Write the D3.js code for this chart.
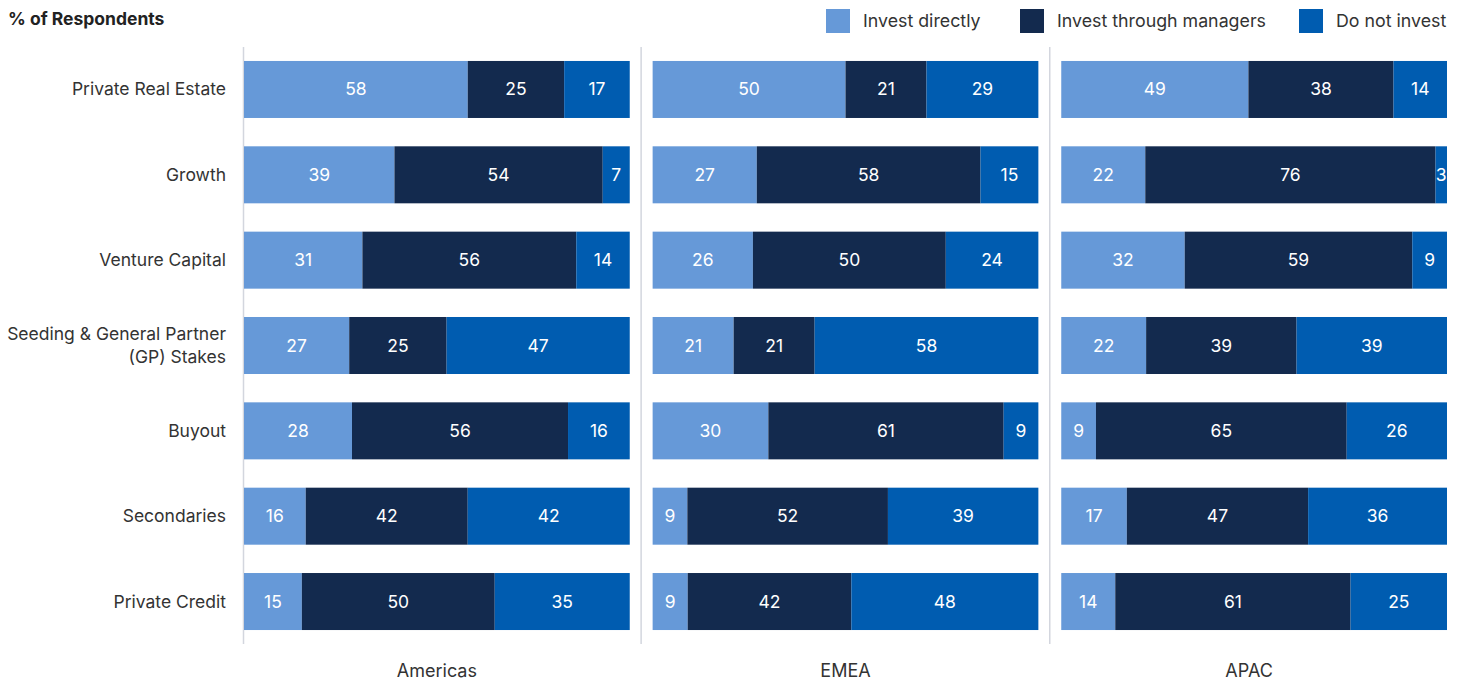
<html>
<head>
<script src="https://d3js.org/d3.v7.min.js"></script>
<style>
body { margin: 0; background: white; }
text { font-family: Inter, "Open Sans", sans-serif; }
</style>
</head>
<body>
<svg id="chart" width="1463" height="681"></svg>
<script>
var categories = ["Private Real Estate", "Growth", "Venture Capital", "Seeding & General Partner|(GP) Stakes", "Buyout", "Secondaries", "Private Credit"];
var regions = ["Americas", "EMEA", "APAC"];
var seriesNames = ["Invest directly", "Invest through managers", "Do not invest"];
var colors = ["#6699d8", "#132a4e", "#005cb0"];

// [direct, managers, do not invest] per category
var americas = [[58,25,17],[39,54,7],[31,56,14],[27,25,47],[28,56,16],[16,42,42],[15,50,35]];
var emea     = [[50,21,29],[27,58,15],[26,50,24],[21,21,58],[30,61,9],[9,52,39],[9,42,48]];
var apac     = [[49,38,14],[22,76,3],[32,59,9],[22,39,39],[9,65,26],[17,47,36],[14,61,25]];
var panels = [americas, emea, apac];

var svg = d3.select("#chart");

var y = d3.scaleBand().domain(categories).range([46.8, 644.2]).paddingInner(0.332).paddingOuter(0.166);
var px = d3.scaleBand().domain(regions).range([244, 1447]).paddingInner(0.056);

// title
svg.append("text").attr("x", 8).attr("y", 25).attr("font-size", 17.5).attr("font-weight", 700)
  .attr("fill", "#222").text("% of Respondents");

// legend
var legX = [826, 1020, 1299];
seriesNames.forEach(function(s, i) {
  svg.append("rect").attr("x", legX[i]).attr("y", 9).attr("width", 24).attr("height", 24).attr("fill", colors[i]);
  svg.append("text").attr("x", legX[i] + 37).attr("y", 27).attr("font-size", 17.8).attr("fill", "#333").text(s);
});

// category labels
categories.forEach(function(c) {
  var parts = c.split("|");
  var t = svg.append("text").attr("text-anchor", "end").attr("font-size", 17.5).attr("fill", "#333");
  var cy = y(c) + y.bandwidth() / 2;
  parts.forEach(function(p, k) {
    t.append("tspan").attr("x", 226).attr("y", cy + 6 + (k - (parts.length - 1) / 2) * 23).text(p);
  });
});

regions.forEach(function(r, pi) {
  var x0 = px(r);
  var sep = pi === 0 ? x0 - 1 : x0 - 12;
  svg.append("line").attr("x1", sep + 0.5).attr("x2", sep + 0.5).attr("y1", 47).attr("y2", 644)
    .attr("stroke", "#d3d6de").attr("stroke-width", 1.5);
  var x = d3.scaleLinear().domain([0, 1]).range([x0, x0 + px.bandwidth()]);
  svg.append("text").attr("x", (x(0) + x(1)) / 2 - (pi === 2 ? 5 : 0)).attr("y", 677).attr("text-anchor", "middle")
    .attr("font-size", 18).attr("fill", "#333").text(r);

  panels[pi].forEach(function(vals, ci) {
    var total = d3.sum(vals);
    var acc = 0;
    vals.forEach(function(v, si) {
      var a = x(acc / total), b = x((acc + v) / total);
      acc += v;
      svg.append("rect").attr("x", a).attr("y", y(categories[ci])).attr("width", b - a)
        .attr("height", y.bandwidth()).attr("fill", colors[si]);
      svg.append("text").attr("x", (a + b) / 2).attr("y", y(categories[ci]) + y.bandwidth() / 2 + 6)
        .attr("text-anchor", "middle").attr("font-size", 17.5).attr("fill", "white").text(v);
    });
  });
});
</script>
</body>
</html>
